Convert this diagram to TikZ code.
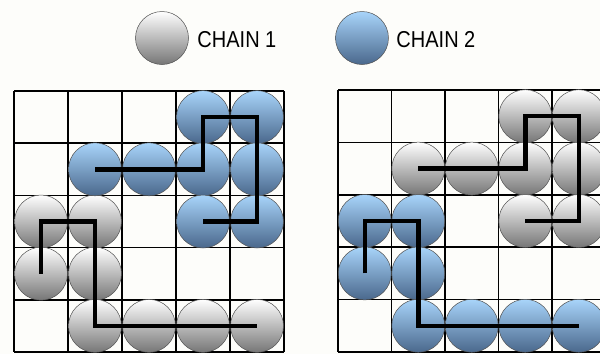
\documentclass[tikz,border=0pt]{standalone}
\usepackage{fontspec}
\newfontfamily\keyfont[FakeStretch=0.87]{Liberation Sans}
\usetikzlibrary{positioning}

\definecolor{paper}{RGB}{253,253,250}
\definecolor{blueup}{RGB}{168,212,250}
\definecolor{bluedown}{RGB}{74,104,140}
\definecolor{greyup}{RGB}{255,255,255}
\definecolor{greydown}{RGB}{118,118,118}
\definecolor{rim}{RGB}{80,80,80}

\tikzset{
	gridline/.style = {line width=1.6pt},
	beadgrey/.style = {circle, draw=rim, line width=0.5pt, inner sep=0pt, minimum size=53pt, top color=greyup, bottom color=greydown},
	beadblue/.style = {circle, draw=rim, line width=0.5pt, inner sep=0pt, minimum size=53pt, top color=blueup, bottom color=bluedown},
	backbone/.style = {line width=4.5pt},
	keytext/.style = {inner sep=0pt, font=\keyfont\fontsize{23}{27}\selectfont}
}

\begin{document}
\begin{tikzpicture}[x=1pt,y=-1pt]
%
	\fill[paper] (0,0) rectangle (600,354);
	\useasboundingbox (0,0) rectangle (600,354);
%
	% key
	\node[beadgrey] (keyA) at (162,38) {};
	\node[keytext, right=8.5pt of keyA, yshift=-1.7pt] (keyAtext) {CHAIN 1};
	\node[beadblue] (keyB) at (362,38) {};
	\node[keytext, right=7.5pt of keyB, yshift=-1.7pt] (keyBtext) {CHAIN 2};
%
	% left lattice
	\foreach \i in {0,...,5} {
		\draw[gridline] (14+54*\i,91) -- (14+54*\i,352);
		\draw[gridline] (14,91+52.2*\i) -- (284,91+52.2*\i);
	}
	\foreach \c/\r in {0/2,1/2,0/3,1/3,1/4,2/4,3/4,4/4}
		\node[beadgrey] (l\c\r) at ({41+54*\c},{117.1+52.2*\r}) {};
	\foreach \c/\r in {3/0,4/0,1/1,2/1,3/1,4/1,3/2,4/2}
		\node[beadblue] (l\c\r) at ({41+54*\c},{117.1+52.2*\r}) {};
	\draw[backbone] (l03.center) -- (l02.center) -- (l12.center) -- (l14.center) -- (l44.center);
	\draw[backbone] (l11.center) -- (l31.center) -- (l30.center) -- (l40.center) -- (l42.center) -- (l32.center);
%
	% right lattice
	\foreach \i in {0,...,5} {
		\draw[gridline] (338+53.5*\i,90) -- (338+53.5*\i,352);
		\draw[gridline] (338,90+52.4*\i) -- (605.5,90+52.4*\i);
	}
	\foreach \c/\r in {3/0,4/0,1/1,2/1,3/1,4/1,3/2,4/2}
		\node[beadgrey] (r\c\r) at ({364.75+53.5*\c},{116.2+52.4*\r}) {};
	\foreach \c/\r in {0/2,1/2,0/3,1/3,1/4,2/4,3/4,4/4}
		\node[beadblue] (r\c\r) at ({364.75+53.5*\c},{116.2+52.4*\r}) {};
	\draw[backbone] (r03.center) -- (r02.center) -- (r12.center) -- (r14.center) -- (r44.center);
	\draw[backbone] (r11.center) -- (r31.center) -- (r30.center) -- (r40.center) -- (r42.center) -- (r32.center);
\end{tikzpicture}
\end{document}
